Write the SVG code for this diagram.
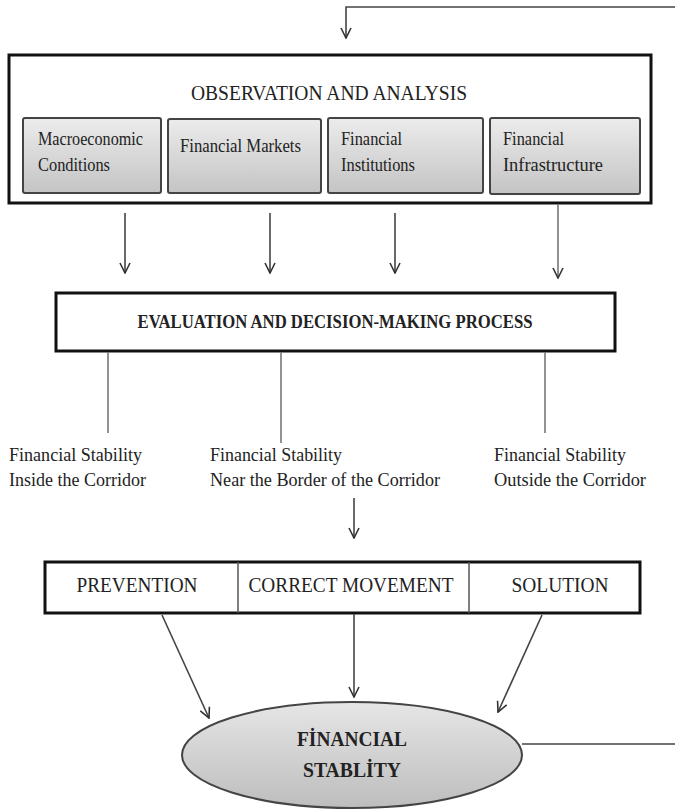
<svg xmlns="http://www.w3.org/2000/svg" width="675" height="811" viewBox="0 0 675 811">
<defs>
<linearGradient id="boxg" x1="0" y1="0" x2="0" y2="1">
<stop offset="0" stop-color="#ececec"/>
<stop offset="1" stop-color="#c4c4c4"/>
</linearGradient>
<linearGradient id="ellg" x1="0" y1="0" x2="0" y2="1">
<stop offset="0" stop-color="#e6e6e6"/>
<stop offset="1" stop-color="#bdbdbd"/>
</linearGradient>
<marker id="arr" viewBox="0 0 12 12" refX="11" refY="6" markerWidth="12" markerHeight="12" markerUnits="userSpaceOnUse" orient="auto">
<path d="M1,1 L11,6 L1,11" fill="none" stroke="#333" stroke-width="1.6"/>
</marker>
</defs>
<style>
text{font-family:"Liberation Serif","Times New Roman",serif;fill:#222;}
.t{font-size:20px;}
.tb{font-size:19px;font-weight:bold;}
.u{font-size:20px;}
.s{font-size:18px;}
.l{font-size:19px;}
.e{font-size:22px;font-weight:bold;}
.sub{fill:url(#boxg);stroke:#444;stroke-width:2;}
.c{fill:none;stroke:#444;stroke-width:1.6;}
.g{fill:none;stroke:#777;stroke-width:1.6;}
</style>
<rect width="675" height="811" fill="#fff"/>

<g id="observation">
<rect x="9" y="55" width="642" height="148" fill="#fff" stroke="#111" stroke-width="3"/>
<text class="t" x="329" y="100" text-anchor="middle" textLength="276" lengthAdjust="spacingAndGlyphs">OBSERVATION AND ANALYSIS</text>
</g>
<g id="macro">
<rect class="sub" x="23" y="118" width="138" height="75" rx="2"/>
<text class="s" x="38" y="145" textLength="105" lengthAdjust="spacingAndGlyphs">Macroeconomic</text>
<text class="s" x="38" y="171" textLength="72" lengthAdjust="spacingAndGlyphs">Conditions</text>
</g>
<g id="markets">
<rect class="sub" x="168" y="119" width="153" height="74" rx="2"/>
<text class="s" x="180" y="152" textLength="121" lengthAdjust="spacingAndGlyphs">Financial Markets</text>
</g>
<g id="institutions">
<rect class="sub" x="328" y="118" width="155" height="75" rx="2"/>
<text class="s" x="341" y="145" textLength="61" lengthAdjust="spacingAndGlyphs">Financial</text>
<text class="s" x="341" y="171" textLength="74" lengthAdjust="spacingAndGlyphs">Institutions</text>
</g>
<g id="infrastructure">
<rect class="sub" x="490" y="118" width="150" height="76" rx="2"/>
<text class="s" x="503" y="145" textLength="61" lengthAdjust="spacingAndGlyphs">Financial</text>
<text class="s" x="503" y="171" textLength="100" lengthAdjust="spacingAndGlyphs">Infrastructure</text>
</g>

<g id="evaluation">
<rect x="56" y="293" width="559" height="58" fill="#fff" stroke="#111" stroke-width="3"/>
<text class="tb" x="335" y="328" text-anchor="middle" textLength="395" lengthAdjust="spacingAndGlyphs">EVALUATION AND DECISION-MAKING PROCESS</text>
</g>

<g id="inside">
<text class="l" x="9" y="461" textLength="133" lengthAdjust="spacingAndGlyphs">Financial Stability</text>
<text class="l" x="9" y="486" textLength="137" lengthAdjust="spacingAndGlyphs">Inside the Corridor</text>
</g>
<g id="near">
<text class="l" x="210" y="461" textLength="132" lengthAdjust="spacingAndGlyphs">Financial Stability</text>
<text class="l" x="210" y="486" textLength="230" lengthAdjust="spacingAndGlyphs">Near the Border of the Corridor</text>
</g>
<g id="outside">
<text class="l" x="494" y="461" textLength="132" lengthAdjust="spacingAndGlyphs">Financial Stability</text>
<text class="l" x="494" y="486" textLength="152" lengthAdjust="spacingAndGlyphs">Outside the Corridor</text>
</g>

<g id="actions">
<rect x="45" y="562" width="595" height="51" fill="#fff" stroke="#111" stroke-width="3"/>
<line x1="238" y1="562" x2="238" y2="613" stroke="#555" stroke-width="1.5"/>
<line x1="469" y1="562" x2="469" y2="613" stroke="#555" stroke-width="1.5"/>
<text class="u" x="137" y="592" text-anchor="middle" textLength="121" lengthAdjust="spacingAndGlyphs">PREVENTION</text>
<text class="u" x="351" y="592" text-anchor="middle" textLength="205" lengthAdjust="spacingAndGlyphs">CORRECT MOVEMENT</text>
<text class="u" x="560" y="592" text-anchor="middle" textLength="97" lengthAdjust="spacingAndGlyphs">SOLUTION</text>
</g>

<g id="financial-stability">
<ellipse cx="352" cy="755" rx="170" ry="53" fill="url(#ellg)" stroke="#444" stroke-width="2"/>
<text class="e" x="352" y="746" text-anchor="middle" textLength="110" lengthAdjust="spacingAndGlyphs">FİNANCIAL</text>
<text class="e" x="352" y="777" text-anchor="middle" textLength="98" lengthAdjust="spacingAndGlyphs">STABLİTY</text>
</g>

<g id="connectors">
<polyline class="c" points="675,7 346,7 346,38" marker-end="url(#arr)"/>
<line class="c" x1="125" y1="213" x2="125" y2="273" marker-end="url(#arr)"/>
<line class="c" x1="270" y1="213" x2="270" y2="273" marker-end="url(#arr)"/>
<line class="c" x1="395" y1="213" x2="395" y2="273" marker-end="url(#arr)"/>
<line class="g" x1="558" y1="204" x2="558" y2="278" marker-end="url(#arr)"/>
<line class="g" x1="108" y1="352" x2="108" y2="433"/>
<line class="g" x1="281" y1="352" x2="281" y2="443"/>
<line class="g" x1="545" y1="352" x2="545" y2="433"/>
<line class="c" x1="354" y1="498" x2="354" y2="538" marker-end="url(#arr)"/>
<line class="c" x1="162" y1="615" x2="209" y2="718" marker-end="url(#arr)"/>
<line class="c" x1="354" y1="614" x2="354" y2="697" marker-end="url(#arr)"/>
<line class="c" x1="542" y1="615" x2="498" y2="712" marker-end="url(#arr)"/>
<line class="c" x1="522" y1="744" x2="675" y2="744"/>
</g>
</svg>
